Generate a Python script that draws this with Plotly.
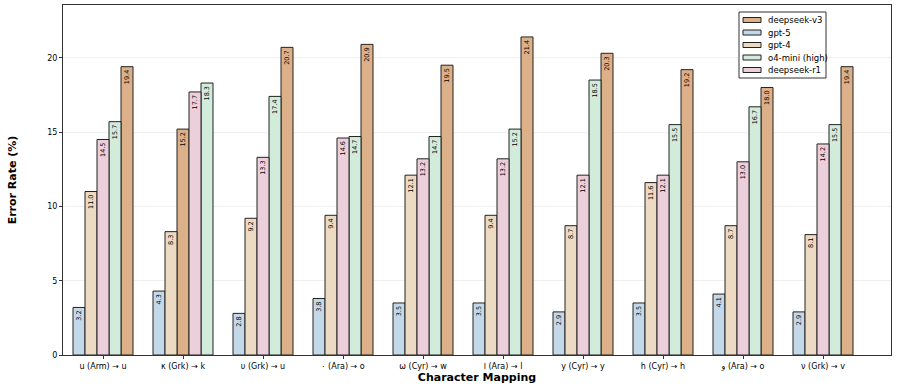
import plotly.graph_objects as go

MAPEAMENTOS = [
    "ս (Arm) → u", "κ (Grk) → k", "υ (Grk) → u", "٠ (Ara) → o", "ѡ (Cyr) → w",
    "ا (Ara) → l", "у (Cyr) → y", "һ (Cyr) → h", "و (Ara) → o", "ν (Grk) → v",
]

gpt5 = [3.2, 4.3, 2.8, 3.8, 3.5, 3.5, 2.9, 3.5, 4.1, 2.9]
gpt4 = [11.0, 8.3, 9.2, 9.4, 12.1, 9.4, 8.7, 11.6, 8.7, 8.1]
o4_mini = [15.7, 18.3, 17.4, 14.7, 14.7, 15.2, 18.5, 15.5, 16.7, 15.5]
deepseek_r1 = [14.5, 17.7, 13.3, 14.6, 13.2, 13.2, 12.1, 12.1, 13.0, 14.2]
deepseek_v3 = [19.4, 15.2, 20.7, 20.9, 19.5, 21.4, 20.3, 19.2, 18.0, 19.4]

MODELOS = {
    "deepseek-v3": deepseek_v3,
    "gpt-5": gpt5,
    "gpt-4": gpt4,
    "o4-mini (high)": o4_mini,
    "deepseek-r1": deepseek_r1,
}

CORES = {
    "deepseek-v3": "#dcb088",
    "gpt-5": "#c3d9ea",
    "gpt-4": "#ecdac2",
    "o4-mini (high)": "#d2ecdc",
    "deepseek-r1": "#ebd0db",
}

LARGURA = 0.15
BORDA = "#222222"

# posição de cada barra: ordem crescente dentro de cada grupo
ranks = {nome: [] for nome in MODELOS}
for i in range(len(MAPEAMENTOS)):
    ordem = sorted(MODELOS, key=lambda n: MODELOS[n][i])
    for r, nome in enumerate(ordem):
        ranks[nome].append(r)

fig = go.Figure()
for nome, valores in MODELOS.items():
    xs = [i + (r - 2) * LARGURA for i, r in enumerate(ranks[nome])]
    fig.add_trace(go.Bar(
        x=xs,
        y=valores,
        width=LARGURA,
        name=nome,
        showlegend=False,
        marker=dict(color=CORES[nome], line=dict(color=BORDA, width=1)),
        text=[f"{v:.1f}" for v in valores],
        textposition="inside",
        insidetextanchor="end",
        textangle=-90,
        textfont=dict(size=6.5, color="black", family="DejaVu Sans"),
        constraintext="none",
    ))

# legenda compacta desenhada à mão (estilo matplotlib)
L, T, W, H = 63, 5, 828, 350
def px(x):
    return (x - L) / W
def py(y):
    return (T + H - y) / H

fig.add_shape(type="rect", xref="paper", yref="paper",
              x0=px(739), x1=px(826), y0=py(78), y1=py(12),
              fillcolor="white", line=dict(color="#333333", width=1), layer="above")
for k, nome in enumerate(MODELOS):
    yc = 20 + k * 12.5
    fig.add_shape(type="rect", xref="paper", yref="paper",
                  x0=px(743), x1=px(761), y0=py(yc + 2.5), y1=py(yc - 2.5),
                  fillcolor=CORES[nome], line=dict(color=BORDA, width=1), layer="above")
    fig.add_annotation(xref="paper", yref="paper", x=px(766), y=py(yc),
                       xanchor="left", yanchor="middle", showarrow=False,
                       text=nome, font=dict(size=8.5, color="black"))

fig.update_layout(
    width=897,
    height=388,
    margin=dict(l=L, r=6, t=T, b=33),
    plot_bgcolor="white",
    paper_bgcolor="white",
    font=dict(family="DejaVu Sans", size=8, color="black"),
    barmode="overlay",
    xaxis=dict(
        tickmode="array",
        tickvals=list(range(len(MAPEAMENTOS))),
        ticktext=MAPEAMENTOS,
        range=[-0.5, 9.85],
        showline=True, linecolor="#333333", linewidth=1, mirror=True,
        ticks="outside", ticklen=3, tickcolor="#333333",
        showgrid=False, zeroline=False, automargin=False,
        title=dict(text="<b>Character Mapping</b>", font=dict(size=11), standoff=3),
    ),
    yaxis=dict(
        range=[0, 23.55],
        tickvals=[0, 5, 10, 15, 20],
        showline=True, linecolor="#333333", linewidth=1, mirror=True,
        ticks="outside", ticklen=3, tickcolor="#333333",
        showgrid=True, gridcolor="#f0f0f0", gridwidth=1,
        zeroline=False, automargin=False,
        title=dict(text="<b>Error Rate (%)</b>", font=dict(size=11), standoff=28),
    ),
)

fig.write_html("out.html", config={"displayModeBar": False},
               post_script="document.body.style.margin='0';")
